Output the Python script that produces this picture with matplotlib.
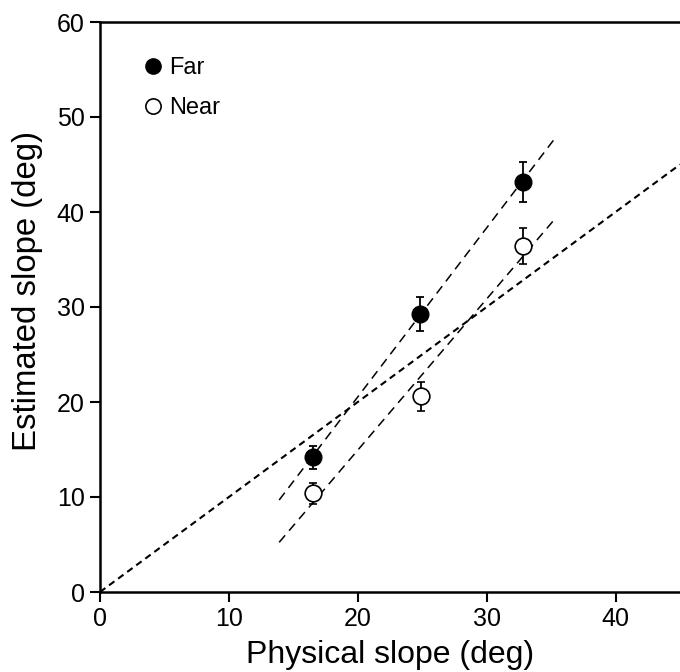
import numpy as np
import matplotlib
matplotlib.use("Agg")
import matplotlib.pyplot as plt
from matplotlib.lines import Line2D

plt.rcParams['font.family'] = ['Liberation Sans', 'DejaVu Sans']

# Data
physical = [16.5, 24.8, 32.8]
far_est = [14.2, 29.3, 43.2]
far_err = [1.2, 1.8, 2.1]
near_x = [16.5, 24.9, 32.8]
near_est = [10.4, 20.6, 36.4]
near_err = [1.1, 1.5, 1.9]
fit_range = [13.9, 35.3]
identity_range = [0, 45]
xticks = [0, 10, 20, 30, 40]
yticks = [0, 10, 20, 30, 40, 50, 60]

fig = plt.figure(figsize=(6.8, 6.72), dpi=100)
ax = fig.add_axes([100/680, 80/672, 580/680, 570/672])

# identity line
ax.plot(identity_range, identity_range, color='black', lw=1.5,
        dashes=(3.2, 2.2), zorder=1)

# regression lines
xf = np.array(fit_range)
pf = np.polyfit(physical, far_est, 1)
ax.plot(xf, np.polyval(pf, xf), color='black', lw=1.1, dashes=(6, 4), zorder=1)
pn = np.polyfit(near_x, near_est, 1)
ax.plot(xf, np.polyval(pn, xf), color='black', lw=1.1, dashes=(6, 4), zorder=1)

ax.errorbar(physical, far_est, yerr=far_err, fmt='o', color='black',
            mfc='black', mec='black', ms=12, ecolor='black', elinewidth=1.3,
            capsize=3, capthick=1.3, zorder=3)
ax.errorbar(near_x, near_est, yerr=near_err, fmt='o', color='black',
            mfc='white', mec='black', mew=1.2, ms=12, ecolor='black',
            elinewidth=1.3, capsize=3, capthick=1.3, zorder=3)

handles = [Line2D([], [], marker='o', ls='none', color='black', mfc='black', ms=11),
           Line2D([], [], marker='o', ls='none', color='black', mfc='white', mew=1.2, ms=11)]
ax.legend(handles, ['Far', 'Near'], loc='upper left', frameon=False,
          fontsize=17, handletextpad=0.1, labelspacing=0.75,
          bbox_to_anchor=(0.03, 0.975), handlelength=1.2)

ax.set_xlim(0, 45)
ax.set_ylim(0, 60)
ax.set_xticks(xticks)
ax.set_yticks(yticks)
ax.tick_params(direction='out', length=7, width=1.5, labelsize=18, pad=4)
for s in ['left', 'bottom', 'top']:
    ax.spines[s].set_linewidth(1.8)
ax.spines['right'].set_visible(False)

ax.set_xlabel('Physical slope (deg)', fontsize=23, labelpad=6)
ax.set_ylabel('Estimated slope (deg)', fontsize=23.7)
ax.yaxis.set_label_coords(-0.098, 0.528)

fig.savefig('out.png', dpi=100)
